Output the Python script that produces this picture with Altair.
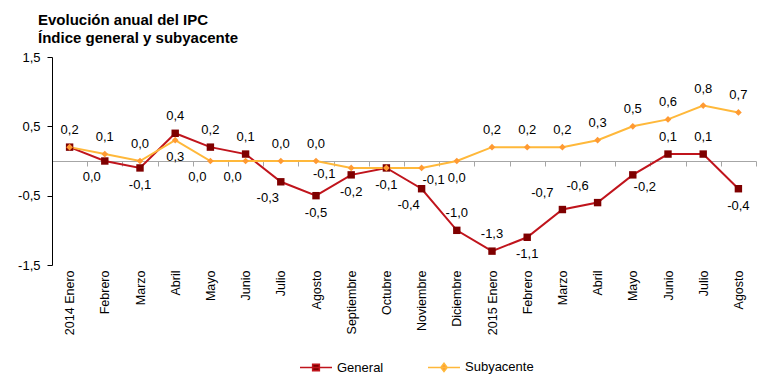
import altair as alt
import pandas as pd

months = ["2014 Enero", "Febrero", "Marzo", "Abril", "Mayo", "Junio", "Julio",
          "Agosto", "Septiembre", "Octubre", "Noviembre", "Diciembre",
          "2015 Enero", "Febrero", "Marzo", "Abril", "Mayo", "Junio", "Julio", "Agosto"]
general = [0.2, 0.0, -0.1, 0.4, 0.2, 0.1, -0.3, -0.5, -0.2, -0.1, -0.4, -1.0,
           -1.3, -1.1, -0.7, -0.6, -0.2, 0.1, 0.1, -0.4]
subyacente = [0.2, 0.1, 0.0, 0.3, 0.0, 0.0, 0.0, 0.0, -0.1, -0.1, -0.1, 0.0,
              0.2, 0.2, 0.2, 0.3, 0.5, 0.6, 0.8, 0.7]
series_names = ["General", "Subyacente"]
y_ticks = [-1.5, -0.5, 0.5, 1.5]

# label placement codes (a=above, b=below, bl=below-left, al=above-left, br=below-right, l=left, n=none)
general_pos = ["a", "bl", "b", "a", "a", "a", "bl", "b", "b", "b", "bl", "a",
               "a", "b", "al", "al", "br", "a", "a", "b"]
subyacente_pos = ["n", "a", "a", "b", "bl", "bl", "a", "a", "l", "n", "br", "b",
                  "a", "a", "a", "a", "a", "a", "a", "a"]

offsets = {"a": (0, -17), "b": (0, 17), "bl": (-13, 16), "al": (-20, -17),
           "br": (12, 12), "l": (-27, 6)}

line_colors = ["#C0141C", "#FFB83A"]
marker_colors = ["#7F0000", "#FF9A33"]

rows = []
for name, vals, pos in [("General", general, general_pos), ("Subyacente", subyacente, subyacente_pos)]:
    for i, v in enumerate(vals):
        rows.append({"i": i, "series": name, "value": v, "pos": pos[i],
                     "label": f"{v:.1f}".replace(".", ",")})
df = pd.DataFrame(rows)

FONT = "Liberation Sans"
W, H = 704, 208

label_array = "[" + ",".join("'" + m + "'" for m in months) + "]"

x = alt.X("i:O", title=None, bandPosition=0.5,
          scale=alt.Scale(type="band", paddingInner=0, paddingOuter=0),
          axis=alt.Axis(labelExpr=label_array + "[datum.value]", labelAngle=-90,
                        offset=-H / 2, tickBand="extent", tickSize=5,
                        domainColor="#A6A6A6", tickColor="#A6A6A6",
                        labelPadding=104, labelFont=FONT, labelFontSize=12.5,
                        labelColor="black"))
y = alt.Y("value:Q", title=None,
          scale=alt.Scale(domain=[-1.5, 1.5], nice=False, zero=False),
          axis=alt.Axis(values=y_ticks, grid=False, domainColor="black", tickColor="black",
                        tickSize=5, labelFont=FONT, labelFontSize=13, labelColor="black",
                        labelPadding=7,
                        labelExpr="(datum.value < 0 ? '-' : '') + replace(format(abs(datum.value), '.1f'), '.', ',')"))

base = alt.Chart(df).encode(x=x, y=y)

layers = []
for k, name in enumerate(series_names):
    layers.append(base.mark_line(color=line_colors[k], strokeWidth=2)
                  .transform_filter(alt.datum.series == name))
layers.append(base.mark_point(shape="square", filled=True, size=55, color=marker_colors[0], opacity=1)
              .transform_filter(alt.datum.series == "General"))
layers.append(base.mark_point(shape="diamond", filled=True, size=45, color=marker_colors[1], opacity=1)
              .transform_filter(alt.datum.series == "Subyacente"))

sq = "M-1,0H1M-0.21,-0.21H0.21V0.21H-0.21Z"
dm = "M-1,0H1M0,-0.26L0.2,0L0,0.26L-0.2,0Z"
legend = alt.Legend(title=None, orient="none", legendX=247, legendY=293, direction="horizontal",
                    symbolSize=1024, symbolStrokeWidth=1.5, symbolOpacity=1, labelFont=FONT,
                    labelFontSize=13, labelColor="black", columnPadding=41,
                    labelOffset=4)
layers.append(base.mark_point(filled=True, opacity=1).encode(
    fill=alt.Fill("series:N", scale=alt.Scale(domain=series_names, range=marker_colors), legend=legend),
    stroke=alt.Stroke("series:N", scale=alt.Scale(domain=series_names, range=line_colors), legend=legend),
    shape=alt.Shape("series:N", scale=alt.Scale(domain=series_names, range=[sq, dm]), legend=legend),
).transform_filter("false"))

for code, (dx, dy) in offsets.items():
    layers.append(base.mark_text(dx=dx, dy=dy, font=FONT, fontSize=13, color="black",
                                 baseline="middle", align="center")
                  .encode(text="label:N")
                  .transform_filter(alt.datum.pos == code))

chart = alt.layer(*layers).properties(
    width=W, height=H,
    padding={"left": 9, "top": 5, "right": 5, "bottom": 5},
    title=alt.TitleParams(["Evolución anual del IPC", "Índice general y subyacente"],
                          anchor="start", frame="group", font=FONT, fontSize=15,
                          fontWeight="bold", color="black", lineHeight=18, dx=-14, offset=5),
).configure_view(stroke=None)

chart.save("out.html", embed_options={"renderer": "svg", "actions": False})
